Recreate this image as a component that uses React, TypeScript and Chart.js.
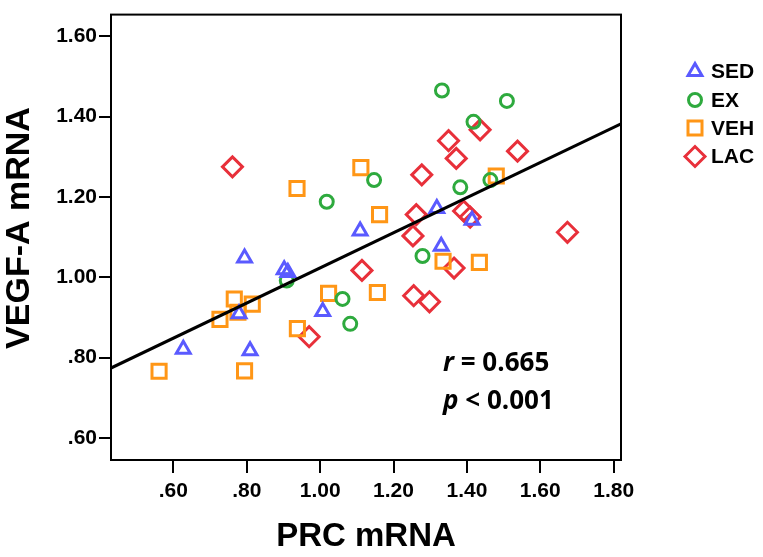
import React, { useEffect, useRef } from "react";
import { Chart, registerables } from "chart.js";

Chart.register(...registerables);

// ---- data ----
const sedX = [0.627, 0.794, 0.902, 0.912, 0.779, 0.809, 1.007, 1.109, 1.318, 1.414, 1.330];
const sedY = [0.821, 1.048, 1.019, 1.012, 0.909, 0.817, 0.915, 1.115, 1.171, 1.142, 1.077];

const exX = [1.332, 1.509, 1.418, 1.147, 1.018, 1.382, 1.464, 0.909, 1.061, 1.082, 1.279];
const exY = [1.465, 1.439, 1.387, 1.242, 1.188, 1.224, 1.242, 0.992, 0.946, 0.884, 1.053];

const vehX = [0.561, 0.794, 0.727, 0.766, 0.776, 0.815, 0.937, 1.111, 1.162, 1.023, 1.156, 0.938, 1.480, 1.335, 1.434];
const vehY = [0.766, 0.767, 0.895, 0.946, 0.913, 0.933, 1.221, 1.273, 1.156, 0.960, 0.962, 0.872, 1.252, 1.040, 1.037];

const lacX = [0.761, 1.277, 1.262, 1.350, 1.436, 1.371, 1.538, 1.391, 1.409, 1.253, 1.674, 1.365, 1.255, 1.298, 1.114, 0.970];
const lacY = [1.275, 1.255, 1.156, 1.340, 1.367, 1.296, 1.314, 1.165, 1.150, 1.103, 1.112, 1.023, 0.954, 0.939, 1.017, 0.852];

const fitX = [0.43, 1.82];
const fitY = [0.774, 1.382];

const xTicks = [0.6, 0.8, 1.0, 1.2, 1.4, 1.6, 1.8];
const yTicks = [0.6, 0.8, 1.0, 1.2, 1.4, 1.6];

const groups = ["SED", "EX", "VEH", "LAC"];
const xTitle = "PRC mRNA";
const yTitle = "VEGF-A mRNA";
const statLines = [
  { italic: "r", rest: " = 0.665", x: 1.335, y: 0.766 },
  { italic: "p", rest: " < 0.001", x: 1.335, y: 0.672 },
];

const COLORS = {
  SED: "#5a5aff",
  EX: "#2eaa3e",
  VEH: "#ff9616",
  LAC: "#e8303a",
};

const FONT = "'Liberation Sans', Arial, sans-serif";

const toPts = (xs: number[], ys: number[]) => xs.map((x, i) => ({ x, y: ys[i] }));
const fmt = (v: number) => {
  const s = v.toFixed(2);
  return s.startsWith("0") ? s.slice(1) : s;
};

function drawMarker(ctx: CanvasRenderingContext2D, kind: string, x: number, y: number) {
  ctx.beginPath();
  if (kind === "SED") {
    const r = 8;
    for (let k = 0; k < 3; k++) {
      const a = (k * 2 * Math.PI) / 3;
      const px = x + Math.sin(a) * r;
      const py = y - Math.cos(a) * r;
      k === 0 ? ctx.moveTo(px, py) : ctx.lineTo(px, py);
    }
    ctx.closePath();
  } else if (kind === "EX") {
    ctx.arc(x, y, 6.5, 0, Math.PI * 2);
  } else if (kind === "VEH") {
    ctx.rect(x - 7, y - 7, 14, 14);
  } else {
    const r = 10;
    ctx.moveTo(x - r, y);
    ctx.lineTo(x, y - r);
    ctx.lineTo(x + r, y);
    ctx.lineTo(x, y + r);
    ctx.closePath();
  }
  ctx.strokeStyle = (COLORS as any)[kind];
  ctx.lineWidth = 3;
  ctx.stroke();
}

const extras = {
  id: "extras",
  afterDraw(chart: any) {
    const { ctx, chartArea, scales } = chart;
    ctx.save();
    // full box around plot
    ctx.strokeStyle = "#000";
    ctx.lineWidth = 2;
    ctx.strokeRect(chartArea.left, chartArea.top, chartArea.right - chartArea.left, chartArea.bottom - chartArea.top);

    // y title
    ctx.save();
    ctx.translate(20, 228);
    ctx.rotate(-Math.PI / 2);
    ctx.font = `bold 34px ${FONT}`;
    ctx.fillStyle = "#000";
    ctx.textAlign = "center";
    ctx.textBaseline = "middle";
    ctx.fillText(yTitle, 0, 0);
    ctx.restore();

    // legend
    const rowY = [71.5, 100, 128, 156.5];
    groups.forEach((g, i) => {
      drawMarker(ctx, g, 695, rowY[i]);
      ctx.fillStyle = "#000";
      ctx.font = `bold 21px ${FONT}`;
      ctx.textBaseline = "middle";
      ctx.textAlign = "left";
      ctx.fillText(g, 711, rowY[i] + 1);
    });

    // stats text
    statLines.forEach((s) => {
      const px = scales.x.getPixelForValue(s.x);
      const py = scales.y.getPixelForValue(s.y);
      ctx.textBaseline = "alphabetic";
      ctx.textAlign = "left";
      ctx.fillStyle = "#000";
      ctx.font = "italic bold 26px 'Open Sans', sans-serif";
      ctx.fillText(s.italic, px, py);
      const w = ctx.measureText(s.italic).width;
      ctx.font = "bold 26px 'Open Sans', sans-serif";
      ctx.fillText(s.rest, px + w, py);
    });
    ctx.restore();
  },
};

export default function App() {
  const ref = useRef<HTMLCanvasElement>(null);
  useEffect(() => {
    document.body.style.margin = "0";
    const ds = (label: string, xs: number[], ys: number[], style: string, radius: number) => ({
      type: "scatter" as const,
      label,
      data: toPts(xs, ys),
      pointStyle: style,
      pointRadius: radius,
      pointHoverRadius: radius,
      pointBorderWidth: 3,
      pointHoverBorderWidth: 3,
      borderColor: (COLORS as any)[label],
      backgroundColor: "rgba(0,0,0,0)",
      pointBackgroundColor: "rgba(0,0,0,0)",
      showLine: false,
    });
    const chart = new Chart(ref.current!, {
      type: "scatter",
      data: {
        datasets: [
          {
            type: "line",
            label: "fit",
            data: toPts(fitX, fitY),
            borderColor: "#000",
            borderWidth: 3,
            pointRadius: 0,
            fill: false,
          } as any,
          ds("SED", sedX, sedY, "triangle", 8),
          ds("EX", exX, exY, "circle", 6.5),
          ds("VEH", vehX, vehY, "rect", 10),
          ds("LAC", lacX, lacY, "rectRot", 10),
        ],
      },
      options: {
        animation: false,
        responsive: false,
        layout: { padding: { top: 8, right: 142, left: 0, bottom: 0 } },
        plugins: { legend: { display: false }, tooltip: { enabled: false } },
        scales: {
          x: {
            type: "linear",
            min: 0.43,
            max: 1.82,
            afterBuildTicks: (s: any) => {
              s.ticks = xTicks.map((value) => ({ value }));
            },
            afterFit: (s: any) => {
              s.height = 97;
            },
            ticks: {
              color: "#000",
              padding: 6,
              font: { family: FONT, size: 21, weight: "bold" },
              callback: (v: any) => fmt(Number(v)),
            },
            grid: { drawOnChartArea: false, drawTicks: true, tickLength: 13, color: "#000", lineWidth: 2 },
            border: { display: true, color: "#000", width: 2 },
            title: {
              display: true,
              text: xTitle,
              color: "#000",
              padding: 0,
              font: { family: FONT, size: 33, weight: "bold", lineHeight: 1.2 },
            },
          },
          y: {
            type: "linear",
            min: 0.545,
            max: 1.654,
            afterBuildTicks: (s: any) => {
              s.ticks = yTicks.map((value) => ({ value }));
            },
            afterFit: (s: any) => {
              s.width = 111;
            },
            ticks: {
              color: "#000",
              padding: 2,
              font: { family: FONT, size: 21, weight: "bold" },
              callback: (v: any) => fmt(Number(v)),
            },
            grid: { drawOnChartArea: false, drawTicks: true, tickLength: 12, color: "#000", lineWidth: 2 },
            border: { display: true, color: "#000", width: 2 },
            title: { display: false },
          },
        },
      },
      plugins: [extras],
    });
    return () => chart.destroy();
  }, []);
  return (
    <div style={{ width: 763, height: 557, background: "#fff" }}>
      <canvas ref={ref} width={763} height={557} style={{ display: "block" }} />
    </div>
  );
}
